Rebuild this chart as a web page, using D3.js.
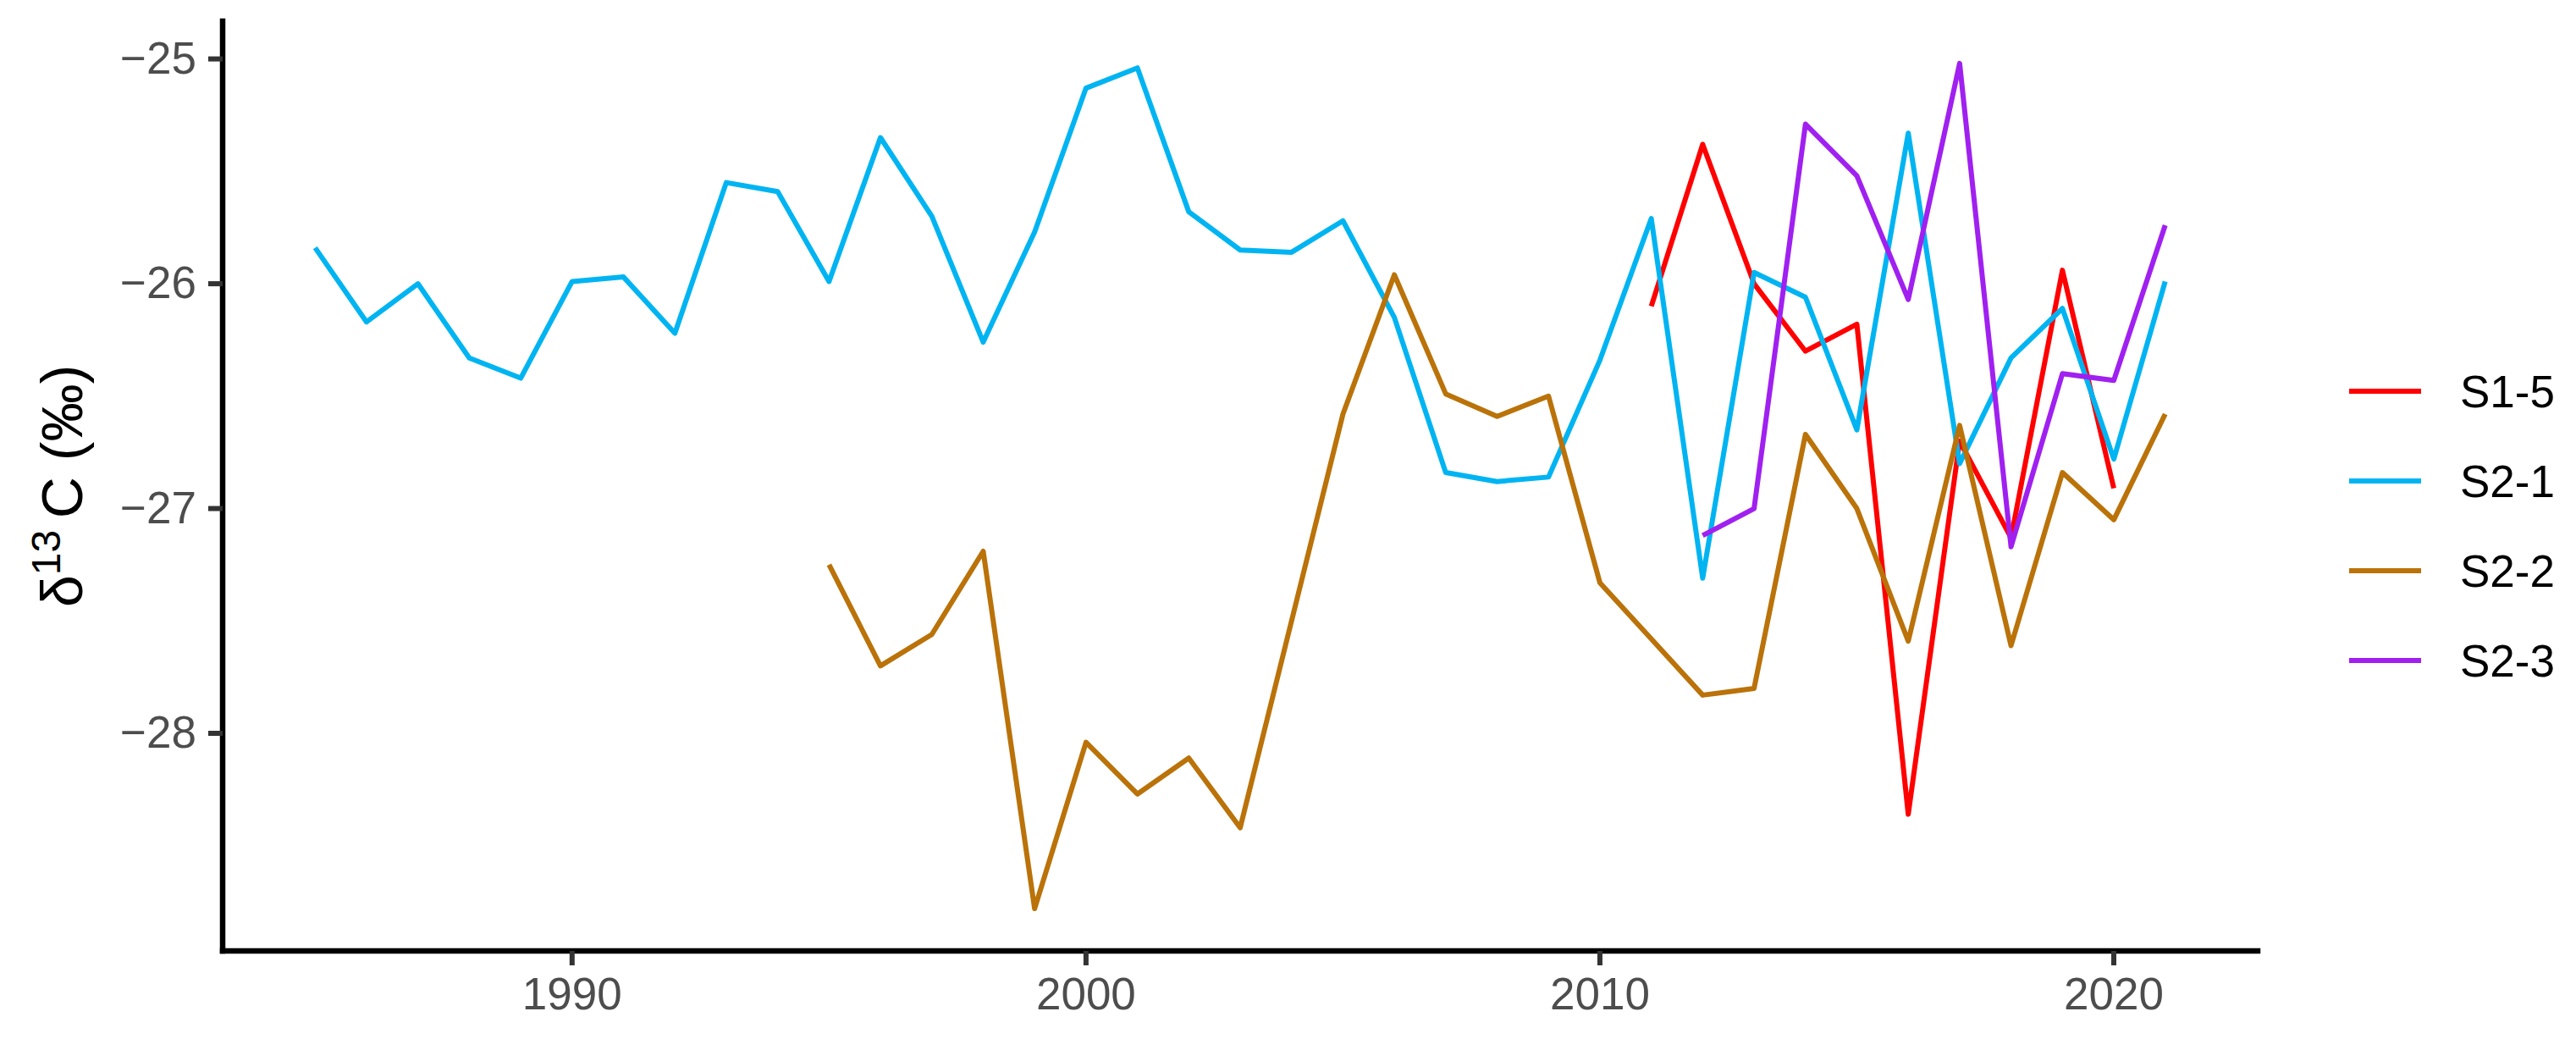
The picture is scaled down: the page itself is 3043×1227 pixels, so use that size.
<!DOCTYPE html>
<html lang="en">
<head>
    <meta charset="UTF-8">
    <title>delta 13C</title>
    <style>
        body {
            margin: 0;
            background: #fff;
        }
        #chart text {
            font-family: "Liberation Sans", Arial, sans-serif;
        }
    </style>
</head>
<body>
    <div id="chart"></div>

    <script src="https://d3js.org/d3.v7.min.js"></script>
    <script>
        // series values (delta 13C, per mil)
        const s15Years = [2011, 2012, 2013, 2014, 2015, 2016, 2017, 2018, 2019, 2020]
        const s15Values = [-26.10, -25.38, -26.00, -26.30, -26.18, -28.36, -26.70, -27.13, -25.94, -26.91]

        const s21Years = d3.range(1985, 2022)
        const s21Values = [-25.84, -26.17, -26.00, -26.33, -26.42, -25.99, -25.97, -26.22, -25.55, -25.59,
            -25.99, -25.35, -25.70, -26.26, -25.77, -25.13, -25.04, -25.68, -25.85, -25.86,
            -25.72, -26.15, -26.84, -26.88, -26.86, -26.34, -25.71, -27.31, -25.95, -26.06,
            -26.65, -25.33, -26.80, -26.33, -26.11, -26.78, -25.99]

        const s22Years = d3.range(1995, 2022)
        const s22Values = [-27.25, -27.70, -27.56, -27.19, -28.78, -28.04, -28.27, -28.11, -28.42, -27.50,
            -26.58, -25.96, -26.49, -26.59, -26.50, -27.33, -27.58, -27.83, -27.80, -26.67,
            -27.00, -27.59, -26.63, -27.61, -26.84, -27.05, -26.58]

        const s23Years = d3.range(2012, 2022)
        const s23Values = [-27.12, -27.00, -25.29, -25.52, -26.07, -25.02, -27.17, -26.40, -26.43, -25.74]

        const seriesNames = ['S1-5', 'S2-1', 'S2-2', 'S2-3']
        const seriesColors = ['#FF0000', '#00B4F2', '#BA7209', '#A020F0']
        const xTicks = [1990, 2000, 2010, 2020]
        const yTicks = [-25, -26, -27, -28]

        const width = 3043
        const height = 1227
        const panel = { left: 263, right: 2667, top: 25, bottom: 1123 }

        const series = [
            { name: seriesNames[0], years: s15Years, values: s15Values },
            { name: seriesNames[1], years: s21Years, values: s21Values },
            { name: seriesNames[2], years: s22Years, values: s22Values },
            { name: seriesNames[3], years: s23Years, values: s23Values }
        ]

        // ggplot style 5% expansion on both axes
        function expand(ext) {
            const pad = (ext[1] - ext[0]) * 0.05
            return [ext[0] - pad, ext[1] + pad]
        }
        const allYears = d3.merge(series.map(s => s.years))
        const allValues = d3.merge(series.map(s => s.values))

        const x = d3.scaleLinear()
            .domain(expand(d3.extent(allYears)))
            .range([panel.left, panel.right])
        const y = d3.scaleLinear()
            .domain(expand(d3.extent(allValues)))
            .range([panel.bottom, panel.top])
        const color = d3.scaleOrdinal()
            .domain(seriesNames)
            .range(seriesColors)

        const svg = d3.select('#chart')
            .append('svg')
            .attr('width', width)
            .attr('height', height)

        // lines
        const line = d3.line()
            .x(d => x(d[0]))
            .y(d => y(d[1]))

        svg.append('g')
            .attr('class', 'lines')
            .selectAll('path')
            .data(series)
            .enter()
            .append('path')
            .attr('fill', 'none')
            .attr('stroke', d => color(d.name))
            .attr('stroke-width', 6)
            .attr('stroke-linejoin', 'round')
            .attr('d', d => line(d.years.map((yr, i) => [yr, d.values[i]])))

        // axes
        const xAxis = svg.append('g')
            .attr('transform', `translate(0, ${panel.bottom})`)
            .call(d3.axisBottom(x).tickValues(xTicks).tickFormat(d3.format('d'))
                .tickSizeInner(17).tickSizeOuter(0).tickPadding(14).offset(0))
        const yAxis = svg.append('g')
            .attr('transform', `translate(${panel.left}, 0)`)
            .call(d3.axisLeft(y).tickValues(yTicks).tickFormat(d => '\u2212' + Math.abs(d))
                .tickSizeInner(17).tickSizeOuter(0).tickPadding(14).offset(0))

        for (const ax of [xAxis, yAxis]) {
            ax.select('.domain')
                .attr('stroke', '#000')
                .attr('stroke-width', 6.5)
                .attr('stroke-linecap', 'square')
            ax.selectAll('.tick line')
                .attr('stroke', '#333333')
                .attr('stroke-width', 6)
            ax.selectAll('.tick text')
                .attr('fill', '#4D4D4D')
                .style('font-size', '53px')
        }
        xAxis.selectAll('.tick text').attr('dy', '0.72em')

        // y axis title: delta 13 C (permil)
        const title = svg.append('text')
            .attr('transform', `translate(97, ${(panel.top + panel.bottom) / 2}) rotate(-90)`)
            .attr('text-anchor', 'middle')
            .attr('fill', '#000')
            .style('font-size', '68px')
        title.append('tspan').text('\u03B4')
        title.append('tspan')
            .attr('dy', -26)
            .style('font-size', '48px')
            .text('13')
        title.append('tspan')
            .attr('dy', 26)
            .text('\u2009C (\u2030)')

        // legend
        const legendY = d3.scalePoint()
            .domain(seriesNames)
            .range([462, 780])

        const legend = svg.append('g')
            .attr('class', 'legend')
            .selectAll('g')
            .data(seriesNames)
            .enter()
            .append('g')
            .attr('transform', d => `translate(0, ${legendY(d)})`)

        legend.append('line')
            .attr('x1', 2775)
            .attr('x2', 2860)
            .attr('stroke', d => color(d))
            .attr('stroke-width', 6)
        legend.append('text')
            .attr('x', 2906)
            .attr('dy', '0.36em')
            .attr('fill', '#000')
            .style('font-size', '53px')
            .text(d => d)
    </script>
</body>
</html>
